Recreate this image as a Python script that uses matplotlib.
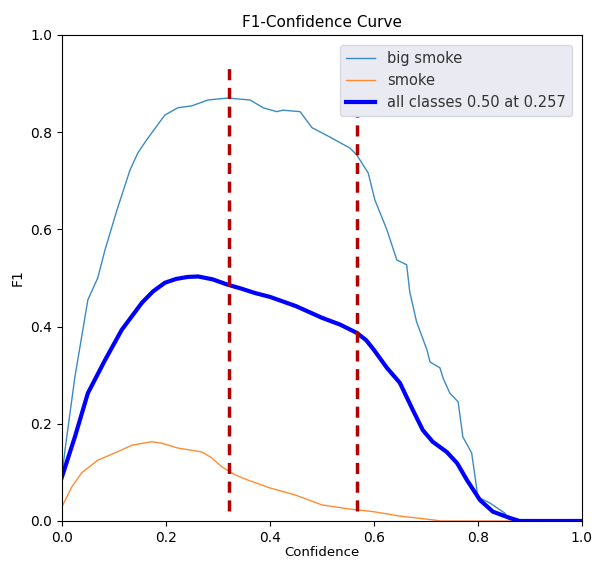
import matplotlib
matplotlib.use('Agg')
import matplotlib.pyplot as plt

# F1 curves (confidence -> F1)
big_smoke_x = [0.0, 0.006, 0.025, 0.05, 0.069, 0.083, 0.106, 0.131, 0.146, 0.163, 0.198,
               0.223, 0.25, 0.281, 0.319, 0.362, 0.387, 0.413, 0.425, 0.458, 0.481, 0.515,
               0.554, 0.567, 0.589, 0.602, 0.625, 0.644, 0.663, 0.669, 0.682, 0.702, 0.708,
               0.727, 0.733, 0.746, 0.762, 0.771, 0.788, 0.8, 0.823, 0.852, 0.856, 0.87, 1.0]
big_smoke_y = [0.09, 0.146, 0.296, 0.455, 0.5, 0.558, 0.64, 0.722, 0.757, 0.784, 0.835,
               0.85, 0.854, 0.866, 0.87, 0.866, 0.85, 0.842, 0.845, 0.842, 0.809, 0.79,
               0.767, 0.753, 0.716, 0.66, 0.599, 0.537, 0.527, 0.471, 0.41, 0.352, 0.327,
               0.315, 0.294, 0.263, 0.245, 0.173, 0.14, 0.049, 0.037, 0.016, 0.006, 0.0, 0.0]

smoke_x = [0.0, 0.019, 0.038, 0.069, 0.102, 0.135, 0.173, 0.192, 0.223, 0.269, 0.288,
           0.308, 0.333, 0.358, 0.4, 0.45, 0.5, 0.55, 0.6, 0.65, 0.7, 0.73, 1.0]
smoke_y = [0.029, 0.07, 0.099, 0.125, 0.14, 0.156, 0.163, 0.16, 0.15, 0.142, 0.13,
           0.111, 0.095, 0.084, 0.068, 0.053, 0.033, 0.025, 0.019, 0.01, 0.004, 0.0, 0.0]

all_x = [0.0, 0.012, 0.025, 0.05, 0.083, 0.115, 0.154, 0.175, 0.198, 0.22, 0.242, 0.262,
         0.29, 0.319, 0.345, 0.371, 0.4, 0.45, 0.5, 0.535, 0.567, 0.585, 0.6, 0.625,
         0.65, 0.675, 0.694, 0.713, 0.74, 0.76, 0.779, 0.804, 0.829, 0.862, 0.88, 1.0]
all_y = [0.09, 0.13, 0.173, 0.263, 0.331, 0.393, 0.449, 0.472, 0.49, 0.498, 0.502, 0.503,
         0.497, 0.486, 0.478, 0.469, 0.461, 0.442, 0.418, 0.404, 0.387, 0.372, 0.352, 0.315,
         0.284, 0.228, 0.187, 0.163, 0.142, 0.119, 0.084, 0.043, 0.019, 0.006, 0.0, 0.0]

thresholds = [0.321, 0.567]
thr_range = (0.02, 0.945)

fig = plt.figure(figsize=(5.95, 5.62), dpi=100)
ax = fig.add_axes([0.104, 0.073, 0.874, 0.865])

ax.plot(big_smoke_x, big_smoke_y, color='#3b8bc2', linewidth=1, label='big smoke')
ax.plot(smoke_x, smoke_y, color='#ff8c33', linewidth=1, label='smoke')
ax.plot(all_x, all_y, color='blue', linewidth=3, label='all classes 0.50 at 0.257')

for t in thresholds:
    ax.plot([t, t], thr_range, color='#b30000', linewidth=2.5, linestyle=(0, (3.2, 2.2)))

ax.set_xlim(0, 1)
ax.set_ylim(0, 1)
ax.set_xlabel('Confidence', fontsize=9.5, labelpad=1)
ax.set_ylabel('F1')
ax.set_title('F1-Confidence Curve', fontsize=11)
leg = ax.legend(loc='upper right', facecolor='#eaeaf2', edgecolor='#d8d8e0', framealpha=1,
                fontsize=10.5, borderaxespad=0.7, labelcolor='#333333')

fig.savefig('out.png', dpi=100)
